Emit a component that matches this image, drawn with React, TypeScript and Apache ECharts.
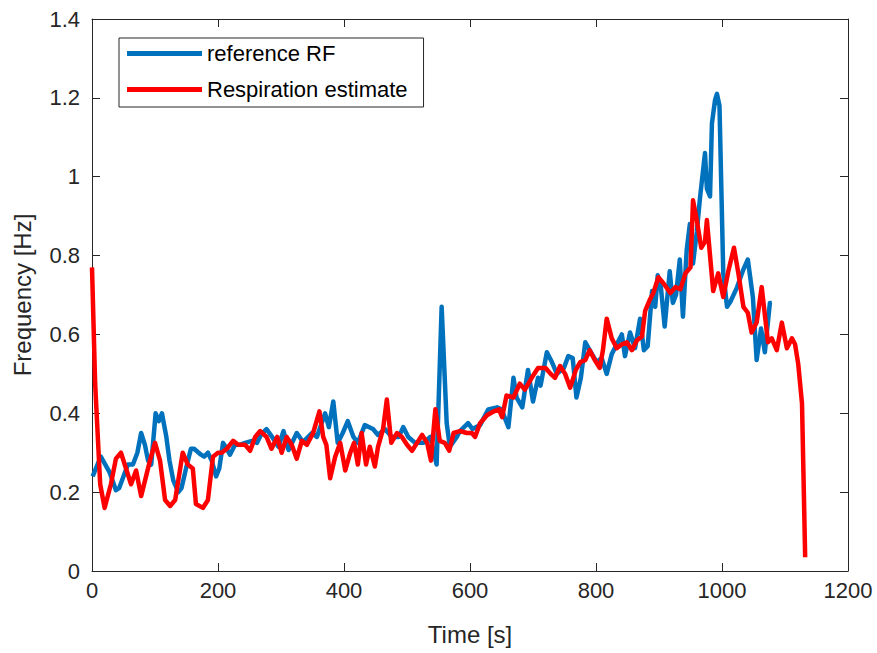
import React, { useEffect, useRef } from "react";
import * as echarts from "echarts";

// reference RF (blue)
const refTime = [1, 14, 28, 38, 43, 57, 65, 72, 78, 84, 89, 94, 101, 106, 111, 118, 123, 129, 137, 142, 150, 157, 162, 173, 178, 184, 190, 197, 202, 208, 214, 219, 227, 235, 243, 254, 262, 268, 277, 288, 296, 304, 312, 325, 335, 349, 357, 370, 376, 383, 390, 398, 406, 415, 422, 433, 446, 454, 465, 476, 487, 494, 502, 513, 526, 537, 547, 555, 563, 568, 579, 584, 597, 604, 616, 629, 643, 650, 661, 669, 674, 683, 692, 700, 708, 712, 722, 730, 738, 749, 756, 763, 769, 776, 783, 790, 801, 809, 817, 825, 833, 841, 846, 854, 862, 870, 876, 882, 889, 894, 898, 903, 909, 917, 922, 927, 933, 938, 944, 949, 954, 960, 965, 973, 976, 981, 984, 989, 992, 996, 1002, 1008, 1014, 1024, 1034, 1041, 1049, 1055, 1062, 1068, 1076, 1079];
const refFreq = [0.24, 0.29, 0.25, 0.205, 0.21, 0.27, 0.27, 0.3, 0.35, 0.32, 0.28, 0.27, 0.4, 0.38, 0.4, 0.34, 0.28, 0.23, 0.2, 0.21, 0.265, 0.31, 0.31, 0.295, 0.29, 0.3, 0.28, 0.24, 0.26, 0.325, 0.31, 0.295, 0.32, 0.32, 0.325, 0.33, 0.325, 0.345, 0.36, 0.335, 0.315, 0.355, 0.307, 0.35, 0.327, 0.35, 0.34, 0.4, 0.365, 0.43, 0.325, 0.35, 0.38, 0.34, 0.325, 0.37, 0.36, 0.345, 0.36, 0.34, 0.34, 0.365, 0.34, 0.325, 0.325, 0.34, 0.27, 0.67, 0.375, 0.315, 0.34, 0.355, 0.375, 0.36, 0.37, 0.41, 0.415, 0.41, 0.365, 0.49, 0.44, 0.415, 0.51, 0.43, 0.49, 0.47, 0.555, 0.53, 0.5, 0.515, 0.545, 0.54, 0.44, 0.49, 0.58, 0.56, 0.53, 0.54, 0.5, 0.55, 0.575, 0.6, 0.545, 0.605, 0.565, 0.64, 0.56, 0.57, 0.71, 0.67, 0.75, 0.72, 0.62, 0.76, 0.68, 0.7, 0.79, 0.645, 0.815, 0.88, 0.78, 0.86, 0.945, 1.06, 0.97, 0.95, 1.135, 1.195, 1.21, 1.18, 0.755, 0.67, 0.685, 0.72, 0.765, 0.79, 0.695, 0.535, 0.615, 0.555, 0.68, 0.68];

// Respiration estimate (red)
const estTime = [0, 5, 13, 20, 30, 38, 46, 54, 62, 70, 78, 92, 100, 108, 116, 124, 132, 144, 152, 160, 165, 176, 184, 192, 200, 206, 214, 224, 232, 243, 251, 259, 267, 277, 285, 294, 301, 309, 317, 325, 333, 341, 351, 361, 367, 372, 378, 386, 394, 402, 410, 416, 422, 428, 435, 441, 449, 454, 462, 468, 475, 484, 492, 500, 508, 516, 524, 532, 538, 545, 552, 560, 567, 574, 584, 595, 603, 608, 616, 627, 638, 646, 651, 658, 669, 679, 687, 698, 708, 720, 728, 735, 743, 751, 759, 768, 775, 783, 790, 798, 806, 811, 817, 825, 833, 841, 849, 857, 865, 873, 878, 886, 891, 899, 907, 918, 926, 934, 942, 950, 954, 960, 967, 973, 976, 981, 986, 994, 1002, 1010, 1019, 1026, 1034, 1041, 1047, 1055, 1063, 1073, 1079, 1087, 1095, 1103, 1111, 1116, 1121, 1127, 1129, 1132];
const estFreq = [0.77, 0.475, 0.22, 0.16, 0.22, 0.285, 0.3, 0.26, 0.22, 0.255, 0.19, 0.28, 0.325, 0.28, 0.18, 0.165, 0.18, 0.3, 0.27, 0.26, 0.17, 0.16, 0.18, 0.29, 0.3, 0.3, 0.31, 0.33, 0.32, 0.32, 0.305, 0.34, 0.355, 0.34, 0.31, 0.34, 0.3, 0.34, 0.32, 0.285, 0.33, 0.32, 0.35, 0.405, 0.34, 0.32, 0.235, 0.29, 0.325, 0.255, 0.3, 0.325, 0.27, 0.35, 0.27, 0.315, 0.265, 0.315, 0.36, 0.435, 0.325, 0.35, 0.34, 0.32, 0.305, 0.325, 0.345, 0.325, 0.28, 0.41, 0.33, 0.325, 0.305, 0.35, 0.355, 0.35, 0.35, 0.34, 0.375, 0.395, 0.405, 0.41, 0.39, 0.445, 0.44, 0.475, 0.46, 0.49, 0.515, 0.515, 0.5, 0.49, 0.52, 0.5, 0.465, 0.51, 0.53, 0.535, 0.56, 0.535, 0.515, 0.56, 0.64, 0.59, 0.565, 0.575, 0.58, 0.56, 0.585, 0.595, 0.66, 0.69, 0.705, 0.745, 0.73, 0.705, 0.72, 0.715, 0.755, 0.77, 0.94, 0.89, 0.82, 0.835, 0.89, 0.8, 0.71, 0.755, 0.695, 0.76, 0.82, 0.755, 0.67, 0.655, 0.605, 0.63, 0.72, 0.58, 0.59, 0.56, 0.63, 0.565, 0.59, 0.575, 0.525, 0.425, 0.27, 0.035];

const seriesNames = ["reference RF", "Respiration estimate"];
const seriesColors = ["#0072BD", "#FF0000"];

const FONT = "'Liberation Sans', Arial, sans-serif";
const AXIS_COLOR = "#262626";

export default function App() {
  const ref = useRef<HTMLDivElement>(null);

  useEffect(() => {
    document.body.style.margin = "0";
    if (!ref.current) return;
    const chart = echarts.init(ref.current, undefined, { renderer: "svg" });

    const axisCommon = {
      axisLine: { show: true, onZero: false, lineStyle: { color: AXIS_COLOR, width: 1 } },
      axisTick: { show: true, inside: true, length: 8, lineStyle: { color: AXIS_COLOR } },
      splitLine: { show: false },
    };

    chart.setOption({
      animation: false,
      backgroundColor: "#ffffff",
      textStyle: { fontFamily: FONT },
      grid: { left: 92, right: 29, top: 19, bottom: 82, containLabel: false },
      legend: {
        orient: "vertical",
        left: 119,
        top: 38,
        data: seriesNames,
        icon: "rect",
        itemWidth: 75,
        itemHeight: 5,
        itemGap: 13,
        itemTextGap: 7,
        itemStyle: { borderWidth: 0 },
        padding: [4, 16, 6, 8],
        backgroundColor: "#ffffff",
        borderColor: AXIS_COLOR,
        borderWidth: 1,
        borderRadius: 0,
        textStyle: { fontSize: 22, color: "#000000", fontFamily: FONT, lineHeight: 23 },
      },
      xAxis: [
        {
          type: "value",
          min: 0,
          max: 1200,
          interval: 200,
          name: "Time [s]",
          nameLocation: "middle",
          nameGap: 51,
          nameTextStyle: { fontSize: 24, color: AXIS_COLOR, fontFamily: FONT },
          axisLabel: { fontSize: 22, color: AXIS_COLOR, margin: 8, fontFamily: FONT, formatter: (v: number) => String(v) },
          ...axisCommon,
        },
        {
          type: "value",
          position: "top",
          min: 0,
          max: 1200,
          interval: 200,
          axisLabel: { show: false },
          ...axisCommon,
        },
      ],
      yAxis: [
        {
          type: "value",
          min: 0,
          max: 1.4,
          interval: 0.2,
          name: "Frequency [Hz]",
          nameLocation: "middle",
          nameGap: 58,
          nameTextStyle: { fontSize: 24, color: AXIS_COLOR, fontFamily: FONT },
          axisLabel: { fontSize: 22, color: AXIS_COLOR, margin: 12, fontFamily: FONT, formatter: (v: number) => String(Math.round(v * 10) / 10) },
          ...axisCommon,
        },
        {
          type: "value",
          position: "right",
          min: 0,
          max: 1.4,
          interval: 0.2,
          axisLabel: { show: false },
          ...axisCommon,
        },
      ],
      series: [
        {
          name: seriesNames[0],
          type: "line",
          showSymbol: false,
          symbol: "none",
          color: seriesColors[0],
          lineStyle: { width: 4.5, color: seriesColors[0], join: "round" },
          data: refTime.map((t, i) => [t, refFreq[i]]),
        },
        {
          name: seriesNames[1],
          type: "line",
          showSymbol: false,
          symbol: "none",
          color: seriesColors[1],
          lineStyle: { width: 4.5, color: seriesColors[1], join: "round" },
          data: estTime.map((t, i) => [t, estFreq[i]]),
        },
      ],
    });

    return () => chart.dispose();
  }, []);

  return <div ref={ref} style={{ width: 877, height: 653 }} />;
}
